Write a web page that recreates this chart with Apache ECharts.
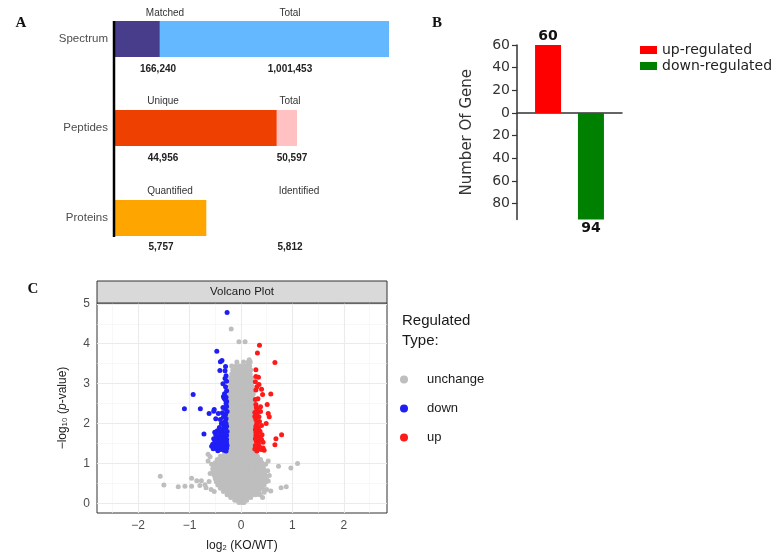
<!DOCTYPE html>
<html><head><meta charset="utf-8">
<script src="https://cdn.jsdelivr.net/npm/echarts@6/dist/echarts.min.js"></script>
<style>html,body{margin:0;padding:0;background:#fff}#c{width:771px;height:553px}</style>
</head><body><div id="c"></div>
<script>
// ---------- Panel A data ----------
const rowNames = ['Spectrum', 'Peptides', 'Proteins'];
const partLabels = ['Matched', 'Unique', 'Quantified'];
const totalLabels = ['Total', 'Total', 'Identified'];
const partValues = [166240, 44956, 5757];
const totalValues = [1001453, 50597, 5812];
const rowAxisMax = [1001453, 76033, 17208];

// ---------- Panel B data ----------
const regCategories = ['up-regulated', 'down-regulated'];
const regValues = [60, -94];
const regTicks = [-80, -60, -40, -20, 0, 20, 40, 60];

// ---------- Panel C data ----------
const volcanoXTicks = [-2, -1, 0, 1, 2];
const volcanoXMinor = [-2.5, -1.5, -0.5, 0.5, 1.5, 2.5];
const volcanoYTicks = [0, 1, 2, 3, 4, 5];
const volcanoYMinor = [0.5, 1.5, 2.5, 3.5, 4.5];
const volcanoTypes = ['unchange', 'down', 'up'];

const downPoints = [
  [-0.27,4.78],[-0.47,3.81],[-0.37,3.58],[-0.40,3.55],[-0.30,3.43],[-0.41,3.33],[-0.31,3.32],[-0.31,3.13],
  [-0.28,3.06],[-0.93,2.73],[-0.34,2.68],[-0.33,2.64],[-0.31,2.60],[-0.28,2.56],[-1.10,2.37],[-0.79,2.37],
  [-0.52,2.35],[-0.62,2.25],[-0.53,2.31],[-0.44,2.25],[-0.36,2.27],[-0.31,2.37],[-0.28,2.43],[-0.29,2.50],
  [-0.49,2.12],[-0.34,2.17],[-0.31,2.05],[-0.34,2.00],[-0.31,1.98],[-0.72,1.74],[-0.51,1.78],[-0.49,1.72],
  [-0.41,1.78],[-0.36,1.77],[-0.31,1.75],[-0.28,1.70],[-0.53,1.62],[-0.45,1.66],[-0.38,1.62],[-0.31,1.67],
  [-0.57,1.43],[-0.54,1.37],[-0.49,1.47],[-0.44,1.43],[-0.36,1.45],[-0.31,1.43],[-0.39,1.35],[-0.47,1.37],
  [-0.33,1.33],[-0.41,1.53],[-0.51,1.53],[-0.29,1.31],[-0.35,1.39],[-0.42,1.36],[-0.45,1.32],[-0.50,1.40],
  [-0.28,1.38],[-0.30,1.50],[-0.34,1.56],[-0.38,1.48],[-0.44,1.55],[-0.47,1.60],[-0.28,1.60],[-0.33,1.64],
  [-0.40,1.70],[-0.36,1.84],[-0.30,1.88],[-0.42,1.90],[-0.28,1.93],[-0.38,2.00],[-0.29,2.12],[-0.40,2.10],
  [-0.30,2.22],[-0.27,2.30],[-0.35,2.40],[-0.29,2.66],[-0.32,2.75],[-0.28,2.82],[-0.30,2.92],[-0.35,3.00],
  [-0.29,3.20],[-0.27,1.45],[-0.31,1.57],[-0.55,1.48],[-0.37,1.41],[-0.43,1.47],[-0.27,1.80],[-0.33,1.92],
  [-0.46,1.82],[-0.29,2.00],[-0.28,1.52],[-0.34,1.72],[-0.40,1.58],[-0.31,1.35]
];

const upPoints = [
  [0.36,3.96],[0.32,3.77],[0.66,3.53],[0.29,3.35],[0.29,3.18],[0.34,3.16],[0.35,2.98],[0.29,2.84],
  [0.40,2.86],[0.42,2.73],[0.58,2.74],[0.29,2.48],[0.38,2.42],[0.51,2.48],[0.31,2.35],[0.32,2.27],
  [0.27,2.18],[0.35,2.17],[0.53,2.25],[0.55,2.17],[0.49,2.00],[0.29,1.93],[0.34,1.89],[0.37,1.81],
  [0.29,1.77],[0.32,1.70],[0.37,1.64],[0.40,1.60],[0.43,1.53],[0.79,1.72],[0.68,1.62],[0.66,1.47],
  [0.32,1.39],[0.39,1.35],[0.45,1.33],[0.31,1.31],[0.43,1.39],[0.28,1.45],[0.30,1.55],[0.34,1.50],
  [0.28,1.62],[0.33,1.78],[0.28,1.85],[0.31,2.02],[0.29,2.10],[0.36,2.05],[0.40,1.95],[0.27,2.28],
  [0.30,2.40],[0.28,2.60],[0.33,2.62],[0.31,2.92],[0.28,3.05],[0.36,1.42],[0.29,1.70],[0.41,1.72],
  [0.35,1.58],[0.27,1.36],[0.31,1.98],[0.38,2.30]
];

// unchanged proteins, read row by row: [y, [x values]]
const unchangeRows = [
  [0.02, [-0.04,0.02,0.06]],
  [0.08, [-0.12,-0.06,0.00,0.05,0.11]],
  [0.15, [-0.20,-0.13,-0.07,-0.01,0.05,0.12,0.19]],
  [0.22, [-0.27,-0.20,-0.14,-0.08,-0.02,0.04,0.10,0.16,0.22,0.29]],
  [0.30, [-0.34,-0.27,-0.21,-0.15,-0.09,-0.03,0.03,0.09,0.15,0.21,0.28,0.35]],
  [0.38, [-0.40,-0.33,-0.27,-0.20,-0.14,-0.08,-0.02,0.04,0.10,0.16,0.23,0.30,0.37,0.42]],
  [0.46, [-0.45,-0.38,-0.31,-0.25,-0.19,-0.12,-0.06,0.00,0.06,0.12,0.18,0.25,0.32,0.39,0.45]],
  [0.54, [-0.48,-0.41,-0.34,-0.28,-0.21,-0.15,-0.08,-0.02,0.04,0.10,0.17,0.23,0.30,0.37,0.44,0.48]],
  [0.62, [-0.50,-0.43,-0.36,-0.29,-0.23,-0.16,-0.10,-0.03,0.03,0.09,0.16,0.22,0.29,0.36,0.42,0.47]],
  [0.70, [-0.52,-0.45,-0.38,-0.31,-0.24,-0.18,-0.11,-0.05,0.02,0.08,0.14,0.21,0.27,0.34,0.41,0.47]],
  [0.78, [-0.54,-0.46,-0.39,-0.32,-0.25,-0.19,-0.12,-0.06,0.01,0.07,0.13,0.20,0.26,0.33,0.40,0.46]],
  [0.86, [-0.55,-0.47,-0.40,-0.33,-0.26,-0.20,-0.13,-0.07,0.00,0.06,0.12,0.19,0.25,0.32,0.38,0.44]],
  [0.94, [-0.53,-0.46,-0.39,-0.32,-0.26,-0.19,-0.13,-0.06,0.00,0.06,0.12,0.18,0.25,0.31,0.37,0.43]],
  [1.02, [-0.50,-0.43,-0.37,-0.30,-0.24,-0.18,-0.12,-0.06,0.00,0.06,0.12,0.18,0.24,0.30,0.36,0.41]],
  [1.10, [-0.46,-0.39,-0.33,-0.27,-0.21,-0.15,-0.09,-0.03,0.03,0.09,0.15,0.21,0.27,0.33,0.38]],
  [1.18, [-0.40,-0.34,-0.28,-0.22,-0.16,-0.10,-0.04,0.02,0.08,0.14,0.20,0.26,0.32]],
  [1.26, [-0.32,-0.26,-0.20,-0.14,-0.08,-0.02,0.04,0.10,0.16,0.22,0.28]],
  [1.34, [-0.26,-0.20,-0.14,-0.08,-0.02,0.04,0.10,0.16,0.22,0.26]],
  [1.44, [-0.25,-0.19,-0.13,-0.07,-0.01,0.05,0.11,0.17,0.23]],
  [1.54, [-0.26,-0.20,-0.14,-0.08,-0.02,0.04,0.10,0.16,0.22]],
  [1.64, [-0.24,-0.18,-0.11,-0.05,0.01,0.07,0.13,0.19,0.25]],
  [1.74, [-0.26,-0.20,-0.14,-0.08,-0.02,0.04,0.10,0.16,0.22]],
  [1.84, [-0.24,-0.17,-0.11,-0.05,0.01,0.07,0.13,0.19,0.25]],
  [1.94, [-0.25,-0.19,-0.13,-0.07,-0.01,0.05,0.11,0.17,0.23]],
  [2.04, [-0.24,-0.18,-0.12,-0.06,0.00,0.06,0.12,0.18,0.24]],
  [2.14, [-0.25,-0.19,-0.13,-0.07,-0.01,0.05,0.11,0.17,0.23]],
  [2.24, [-0.23,-0.17,-0.11,-0.05,0.01,0.07,0.13,0.19,0.25]],
  [2.34, [-0.25,-0.19,-0.13,-0.07,-0.01,0.05,0.11,0.17,0.22]],
  [2.44, [-0.24,-0.18,-0.12,-0.06,0.00,0.06,0.12,0.18,0.24]],
  [2.54, [-0.23,-0.17,-0.11,-0.05,0.01,0.07,0.13,0.19,0.24]],
  [2.64, [-0.24,-0.18,-0.12,-0.06,0.00,0.06,0.12,0.18,0.23]],
  [2.74, [-0.23,-0.17,-0.11,-0.05,0.01,0.07,0.13,0.19,0.24]],
  [2.84, [-0.22,-0.16,-0.10,-0.04,0.02,0.08,0.14,0.20,0.23]],
  [2.94, [-0.21,-0.15,-0.09,-0.03,0.03,0.09,0.15,0.21]],
  [3.04, [-0.20,-0.14,-0.08,-0.02,0.04,0.10,0.16,0.22]],
  [3.14, [-0.20,-0.13,-0.07,-0.01,0.05,0.11,0.17,0.21]],
  [3.24, [-0.18,-0.12,-0.06,0.00,0.06,0.12,0.18]],
  [3.34, [-0.16,-0.10,-0.04,0.03,0.09,0.15,0.19]],
  [3.44, [-0.18,-0.10,-0.02,0.06,0.12,0.17]],
  [3.54, [-0.08,0.05,0.14,0.18]],
  [3.60, [0.16]],
  [4.05, [-0.04,0.08]],
  [4.37, [-0.19]]
];
const unchangeOutliers = [
  [-1.57,0.68],[-1.50,0.46],[-1.22,0.42],[-1.09,0.43],[-0.96,0.63],[-0.96,0.43],[-0.86,0.57],[-0.77,0.57],
  [-0.80,0.45],[-0.70,0.47],[-0.68,0.39],[-0.64,1.06],[-0.60,1.17],[-0.64,1.23],[-0.57,0.98],[-0.62,0.55],
  [-0.58,0.35],[-0.52,0.30],[-0.60,0.75],[0.53,1.06],[0.73,0.93],[0.97,0.89],[1.10,1.00],[0.48,0.98],
  [0.50,0.60],[0.53,0.56],[0.37,0.22],[0.50,0.35],[0.58,0.31],[0.78,0.39],[0.88,0.42],[0.45,0.28],
  [0.55,0.70],[0.52,0.82],[0.42,0.15]
];

// ---------- build ----------
const unchangePoints = [];
unchangeRows.forEach(([y, xs]) => xs.forEach(x => unchangePoints.push([x, y])));
unchangeOutliers.forEach(p => unchangePoints.push(p));

const SANS = 'Liberation Sans, Arial, sans-serif';
const VERD = 'DejaVu Sans, Verdana, sans-serif';
const SERIF = 'Liberation Serif, Times New Roman, serif';

const partColors = ['#483D8B', '#EE4000', '#FFA500'];
const totalColors = ['#63B8FF', '#FFC1C1', '#FFE0A6'];
const rowTops = [21, 110, 200];
const labelY = [13, 101, 191];
const valueY = [69, 158, 247];
const labelX = [[165, 290], [163, 290], [170, 299]];
const valueX = [[158, 290], [163, 292], [161, 290]];

const grids = [], xAxes = [], yAxes = [], series = [], graphics = [];

rowNames.forEach((name, i) => {
  grids.push({ left: 114, width: 275, top: rowTops[i], height: 36 });
  xAxes.push({ type: 'value', gridIndex: i, min: 0, max: rowAxisMax[i], show: false });
  yAxes.push({ type: 'category', gridIndex: i, data: [name],
    axisLine: { show: false }, axisTick: { show: false }, splitLine: { show: false },
    axisLabel: { color: '#4D4D4D', fontSize: 11.5, fontFamily: SANS, margin: 6 } });
  series.push({ type: 'bar', name: totalLabels[i], xAxisIndex: i, yAxisIndex: i, data: [totalValues[i]],
    barWidth: 36, barGap: '-100%', itemStyle: { color: totalColors[i] }, silent: true });
  series.push({ type: 'bar', name: partLabels[i], xAxisIndex: i, yAxisIndex: i, data: [partValues[i]],
    barWidth: 36, barGap: '-100%', itemStyle: { color: partColors[i] }, silent: true });
  [partLabels[i], totalLabels[i]].forEach((t, j) => graphics.push({ type: 'text',
    style: { text: t, x: labelX[i][j], y: labelY[i], align: 'center', verticalAlign: 'middle',
      fontSize: 10, fontFamily: SANS, fill: '#333' } }));
  [partValues[i], totalValues[i]].forEach((v, j) => graphics.push({ type: 'text',
    style: { text: v.toLocaleString('en-US'), x: valueX[i][j], y: valueY[i], align: 'center', verticalAlign: 'middle',
      fontSize: 10, fontWeight: 'bold', fontFamily: SANS, fill: '#222' } }));
});
graphics.push({ type: 'line', shape: { x1: 114, y1: 21, x2: 114, y2: 237 }, style: { stroke: '#000', lineWidth: 2.5 }, z: 10 });

// Panel B
grids.push({ left: 517, top: 45, width: 105, height: 174.5 });
xAxes.push({ type: 'category', gridIndex: 3, data: [''],
  axisLine: { show: true, onZero: true, lineStyle: { color: '#333', width: 1.5 } },
  axisTick: { show: false }, axisLabel: { show: false }, splitLine: { show: false } });
yAxes.push({ type: 'value', gridIndex: 3, min: -94, max: 60,
  name: 'Number Of Gene', nameLocation: 'middle', nameGap: 42,
  nameTextStyle: { fontSize: 15, fontFamily: VERD, color: '#333' },
  axisLine: { show: true, lineStyle: { color: '#333', width: 1.5 } },
  axisTick: { show: true, length: 5, customValues: regTicks, lineStyle: { color: '#333', width: 1.2 } },
  axisLabel: { customValues: regTicks, formatter: v => String(Math.abs(v)), fontSize: 14, fontFamily: VERD, color: '#333', margin: 7 },
  splitLine: { show: false } });
const regColors = ['#FF0000', '#008000'];
regCategories.forEach((c, i) => series.push({
  type: 'bar', name: c, xAxisIndex: 3, yAxisIndex: 3, data: [regValues[i]],
  barWidth: 26, barGap: '65%', itemStyle: { color: regColors[i] },
  label: { show: true, position: regValues[i] >= 0 ? 'top' : 'bottom', distance: 2,
    formatter: p => String(Math.abs(p.value)), fontSize: 14, fontWeight: 'bold', fontFamily: VERD, color: '#111' }
}));

// Panel C
grids.push({ left: 97, top: 303, width: 290, height: 210, show: true, borderColor: '#333', borderWidth: 1, backgroundColor: '#fff' });
xAxes.push({ type: 'value', gridIndex: 4, min: -2.8, max: 2.84,
  name: 'log₂ (KO/WT)', nameLocation: 'middle', nameGap: 27,
  nameTextStyle: { fontSize: 12, fontFamily: SANS, color: '#1a1a1a' },
  axisLine: { show: false },
  axisTick: { show: true, length: 3, customValues: volcanoXTicks, lineStyle: { color: '#333' } },
  axisLabel: { customValues: volcanoXTicks, formatter: v => String(v).replace('-', '\u2212'), fontSize: 12, fontFamily: SANS, color: '#4D4D4D', margin: 7 },
  splitLine: { show: false } });
yAxes.push({ type: 'value', gridIndex: 4, min: -0.24, max: 5.02,
  name: '\u2212log₁₀ ({i|p}-value)', nameLocation: 'middle', nameGap: 28,
  nameTextStyle: { fontSize: 12, fontFamily: SANS, color: '#1a1a1a', rich: { i: { fontStyle: 'italic', fontSize: 12, fontFamily: SANS, color: '#1a1a1a' } } },
  axisLine: { show: false },
  axisTick: { show: true, length: 3, customValues: volcanoYTicks, lineStyle: { color: '#333' } },
  axisLabel: { customValues: volcanoYTicks, fontSize: 12, fontFamily: SANS, color: '#4D4D4D', margin: 7 },
  splitLine: { show: false } });

const major = { color: '#EBEBEB', width: 1.1, type: 'solid' };
const minor = { color: '#F4F4F4', width: 0.6, type: 'solid' };
const gridLineData = [].concat(
  volcanoXMinor.map(v => ({ xAxis: v, lineStyle: minor })),
  volcanoYMinor.map(v => ({ yAxis: v, lineStyle: minor })),
  volcanoXTicks.map(v => ({ xAxis: v, lineStyle: major })),
  volcanoYTicks.map(v => ({ yAxis: v, lineStyle: major }))
);
series.push({ type: 'scatter', name: '_grid', xAxisIndex: 4, yAxisIndex: 4, data: [], z: 1, silent: true,
  markLine: { silent: true, z: 1, symbol: ['none', 'none'], label: { show: false }, animation: false, data: gridLineData } });

const volColors = { unchange: '#BEBEBE', down: '#1F1FF5', up: '#FF1A1A' };
const volData = { unchange: unchangePoints, down: downPoints, up: upPoints };
volcanoTypes.forEach((t, i) => series.push({
  type: 'scatter', name: t, xAxisIndex: 4, yAxisIndex: 4, data: volData[t], z: 3 + i,
  symbolSize: 5, itemStyle: { color: volColors[t], opacity: 1 }, silent: true
}));

// strip & text
graphics.push({ type: 'rect', shape: { x: 97, y: 281, width: 290, height: 22 }, style: { fill: '#D9D9D9', stroke: '#333', lineWidth: 1 }, z: 5 });
graphics.push({ type: 'text', style: { text: 'Volcano Plot', x: 242, y: 292, align: 'center', verticalAlign: 'middle', fontSize: 11.5, fontFamily: SANS, fill: '#1a1a1a' }, z: 6 });
graphics.push({ type: 'text', style: { text: 'Regulated\nType:', x: 402, y: 311, align: 'left', verticalAlign: 'top', fontSize: 15, lineHeight: 20, fontFamily: SANS, fill: '#1a1a1a' } });
[['A', 21, 23], ['B', 437, 23], ['C', 33, 289]].forEach(([t, x, y]) => graphics.push({ type: 'text',
  style: { text: t, x: x, y: y, align: 'center', verticalAlign: 'middle', fontSize: 15, fontWeight: 'bold', fontFamily: SERIF, fill: '#111' } }));

const chart = echarts.init(document.getElementById('c'), null, { renderer: 'canvas' });
chart.setOption({
  animation: false,
  backgroundColor: '#fff',
  grid: grids, xAxis: xAxes, yAxis: yAxes, series: series, graphic: graphics,
  legend: [
    { data: regCategories, orient: 'vertical', left: 635, top: 38, itemWidth: 17, itemHeight: 8, itemGap: 2, icon: 'rect',
      textStyle: { fontSize: 14, fontFamily: VERD, color: '#222' }, selectedMode: false },
    { data: volcanoTypes, orient: 'vertical', left: 395, top: 368, itemWidth: 8, itemHeight: 8, itemGap: 16, icon: 'circle',
      textStyle: { fontSize: 13, fontFamily: SANS, color: '#1a1a1a', padding: [0, 0, 0, 14] }, selectedMode: false }
  ]
});
</script></body></html>
